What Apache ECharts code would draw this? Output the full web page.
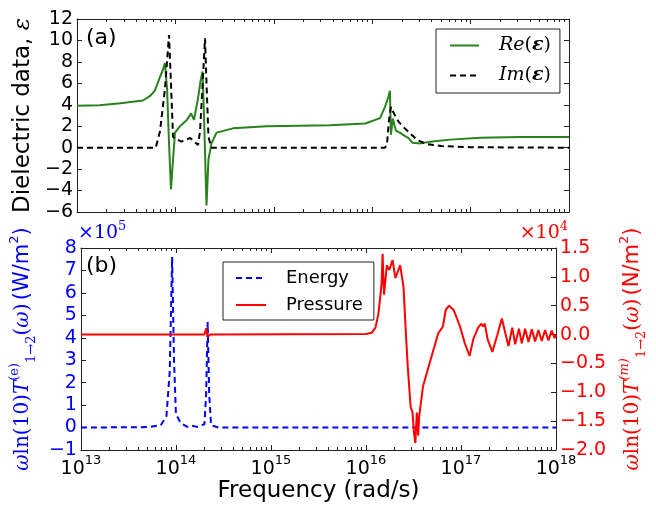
<!DOCTYPE html>
<html>
<head>
<meta charset="utf-8">
<script src="https://cdn.jsdelivr.net/npm/echarts@6/dist/echarts.min.js"></script>
<style>
  html, body { margin: 0; padding: 0; background: #fff; }
  #chart { width: 656px; height: 509px; }
</style>
</head>
<body>
<div id="chart"></div>
<script>
// x values are log10 of the frequency (rad/s)
// panel (a): dielectric data
var reLogW = [13.00, 13.23, 13.44, 13.67, 13.74, 13.79, 13.84, 13.874, 13.894, 13.915, 13.935, 13.955, 13.976, 13.996,
  14.047, 14.118, 14.159, 14.189, 14.23, 14.255, 14.275, 14.291, 14.316, 14.336, 14.367, 14.418, 14.585, 14.93,
  15.57, 15.93, 16.08, 16.13, 16.165, 16.18, 16.19, 16.21, 16.24, 16.28, 16.33, 16.37, 16.41, 16.49, 16.59, 16.79,
  17.10, 17.50, 18.00];
var reEps = [3.9, 3.95, 4.15, 4.4, 4.8, 5.3, 6.5, 7.3, 7.9, 5.5, 0.5, -3.9, -1.1, 1.4,
  2.0, 2.6, 3.2, 2.6, 4.6, 6.2, 7.1, 3.0, -5.4, -1.1, 0.4, 1.4, 1.8, 2.0,
  2.1, 2.25, 2.75, 3.8, 4.75, 5.3, 1.2, 2.7, 1.6, 1.4, 1.1, 0.9, 0.45, 0.4, 0.55, 0.75,
  0.92, 1.0, 1.0];
var imLogW = [13.00, 13.80, 13.843, 13.894, 13.935, 13.955, 13.976, 14.06, 14.15, 14.23, 14.25, 14.28, 14.301, 14.316,
  14.336, 14.367, 16.13, 16.15, 16.17, 16.19, 16.22, 16.27, 16.32, 16.40, 16.46, 16.55, 16.70, 17.00, 17.50, 18.00];
var imEps = [0, 0, 1.5, 5.5, 10.5, 6, 1.0, 0.56, 0.9, 0.25, 1.5, 6.5, 10.2, 6,
  1.0, 0, 0, 0.3, 2.5, 3.8, 3.2, 2.4, 1.9, 1.2, 0.7, 0.35, 0.15, 0.05, 0.01, 0];

// panel (b): energy (W/m^2) and pressure (N/m^2)
var energyLogW = [13.00, 13.70, 13.84, 13.90, 13.935, 13.96, 13.98, 14.00, 14.05, 14.12, 14.17, 14.22, 14.30, 14.318,
  14.334, 14.35, 14.37, 14.45, 18.00];
var energyVals = [0, 2000, 10000, 50000, 250000, 760000, 300000, 60000, 20000, 3000, 8000, 3000, 15000, 150000,
  470000, 150000, 10000, 0, 0];
var pressureLogW = [13.00, 14.30, 14.32, 14.335, 14.36, 16.00, 16.06, 16.10, 16.13, 16.15, 16.165, 16.175, 16.19, 16.22,
  16.245, 16.28, 16.31, 16.36, 16.395, 16.42, 16.44, 16.47, 16.49, 16.505, 16.52, 16.535, 16.55, 16.56, 16.60, 16.69,
  16.76, 16.81, 16.84, 16.875, 16.925, 16.99, 17.04, 17.09, 17.13, 17.18, 17.215, 17.23, 17.25, 17.28, 17.33,
  17.38, 17.43, 17.47, 17.50, 17.54, 17.57, 17.61, 17.64, 17.675, 17.71, 17.745, 17.78, 17.815, 17.85, 17.885,
  17.92, 17.955, 17.985, 18.00];
var pressureVals = [0, 0, 1100, -400, 0, 100, 300, 1200, 3500, 6500, 9000, 14000, 6900, 12000,
  11200, 12900, 9800, 12000, 8300, 300, -5600, -12500, -13500, -17000, -18800, -13500, -17500, -14200, -9000, -3800,
  200, 1400, 4300, 5000, 4200, 1400, -1500, -3700, -800, 1200, 1900, 1400, 1900, -800, -3000,
  -200, 2800, 0, -2000, 1200, -1700, 1000, -1500, 1000, -1300, 900, -1200, 800, -1100, 800,
  -1000, 700, -600, 0];

var decades = [13, 14, 15, 16, 17, 18];

function zip(xs, ys) {
  return xs.map(function (x, i) { return [x, ys[i]]; });
}
function minus(s) { return String(s).replace('-', '\u2212'); }

var minorVals = [];
decades.slice(0, -1).forEach(function (d) {
  for (var k = 2; k <= 9; k++) minorVals.push(d + Math.log10(k));
});

var sans = 'DejaVu Sans';
var serif = 'DejaVu Serif';
var frame = '#222';

function xAxisFor(grid, pos, minor, labels) {
  return {
    type: 'value', gridIndex: grid, position: pos, min: 13, max: 18, interval: 1,
    axisLine: { show: !minor, onZero: false, lineStyle: { color: frame, width: 1 } },
    axisTick: minor
      ? { show: true, inside: true, length: 3, customValues: minorVals, lineStyle: { color: frame } }
      : { show: true, inside: true, length: 5, lineStyle: { color: frame } },
    axisLabel: labels ? {
      show: true, margin: 4,
      formatter: function (v) { return '{b|10}{s|' + v + '}'; },
      rich: {
        b: { fontFamily: sans, fontSize: 19, color: '#000', lineHeight: 30 },
        s: { fontFamily: sans, fontSize: 13, color: '#000', lineHeight: 13, verticalAlign: 'top' }
      }
    } : { show: false },
    splitLine: { show: false }
  };
}

var option = {
  animation: false,
  backgroundColor: '#fff',
  grid: [
    { left: 77, top: 19, width: 492, height: 193 },
    { left: 77, top: 248, width: 492, height: 202 }
  ],
  xAxis: [
    xAxisFor(0, 'bottom', false, false),
    xAxisFor(0, 'top', false, false),
    xAxisFor(0, 'bottom', true, false),
    xAxisFor(0, 'top', true, false),
    Object.assign(xAxisFor(1, 'bottom', false, true), {
      name: 'Frequency (rad/s)', nameLocation: 'middle', nameGap: 29,
      nameTextStyle: { fontFamily: sans, fontSize: 23, color: '#000' }
    }),
    xAxisFor(1, 'top', false, false),
    xAxisFor(1, 'bottom', true, false),
    xAxisFor(1, 'top', true, false)
  ],
  yAxis: [
    {
      type: 'value', gridIndex: 0, position: 'left', min: -6, max: 12, interval: 2,
      axisLine: { show: true, onZero: false, lineStyle: { color: frame } },
      axisTick: { inside: true, length: 5, lineStyle: { color: frame } },
      axisLabel: { margin: 4, fontFamily: sans, fontSize: 19, color: '#000', formatter: minus },
      splitLine: { show: false },
      name: '{s|Dielectric data, }{m|ε}', nameLocation: 'middle', nameGap: 40,
      nameTextStyle: {
        rich: {
          s: { fontFamily: sans, fontSize: 23, color: '#000' },
          m: { fontFamily: serif, fontStyle: 'italic', fontSize: 23, color: '#000' }
        }
      }
    },
    {
      type: 'value', gridIndex: 0, position: 'right', min: -6, max: 12, interval: 2,
      axisLine: { show: true, onZero: false, lineStyle: { color: frame } },
      axisTick: { inside: true, length: 5, lineStyle: { color: frame } },
      axisLabel: { show: false },
      splitLine: { show: false }
    },
    {
      type: 'value', gridIndex: 1, position: 'left', min: -100000, max: 800000, interval: 100000,
      axisLine: { show: true, onZero: false, lineStyle: { color: frame } },
      axisTick: { inside: true, length: 5, lineStyle: { color: frame } },
      axisLabel: {
        margin: 4, fontFamily: sans, fontSize: 19, color: '#0000ff',
        formatter: function (v) { return minus(Math.round(v / 1e5)); }
      },
      splitLine: { show: false },
      name: '{m|ω}{r|ln(10)}{m|T}{p|(e)}{b|1→2}{r|(}{m|ω}{r|)} {s|(W/m}{q|2}{s|)}',
      nameLocation: 'middle', nameGap: 34,
      nameTextStyle: {
        rich: {
          m: { fontFamily: serif, fontStyle: 'italic', fontSize: 20, color: '#0000ff', lineHeight: 30 },
          r: { fontFamily: serif, fontSize: 20, color: '#0000ff', lineHeight: 30 },
          p: { fontFamily: serif, fontSize: 13, color: '#0000ff', lineHeight: 13, verticalAlign: 'top' },
          b: { fontFamily: serif, fontSize: 13, color: '#0000ff', lineHeight: 13, verticalAlign: 'bottom' },
          s: { fontFamily: sans, fontSize: 21, color: '#0000ff', lineHeight: 30 },
          q: { fontFamily: sans, fontSize: 13, color: '#0000ff', lineHeight: 13, verticalAlign: 'top' }
        }
      }
    },
    {
      type: 'value', gridIndex: 1, position: 'right', min: -20000, max: 15000, interval: 5000,
      axisLine: { show: true, onZero: false, lineStyle: { color: frame } },
      axisTick: { inside: true, length: 5, lineStyle: { color: frame } },
      axisLabel: {
        margin: 4, fontFamily: sans, fontSize: 19, color: '#ff0000',
        formatter: function (v) { return minus((v / 1e4).toFixed(1)); }
      },
      splitLine: { show: false },
      name: '{m|ω}{r|ln(10)}{m|T}{p|(m)}{b|1→2}{r|(}{m|ω}{r|)} {s|(N/m}{q|2}{s|)}',
      nameLocation: 'middle', nameGap: 62, nameRotate: 90,
      nameTextStyle: {
        rich: {
          m: { fontFamily: serif, fontStyle: 'italic', fontSize: 20, color: '#ff0000', lineHeight: 30 },
          r: { fontFamily: serif, fontSize: 20, color: '#ff0000', lineHeight: 30 },
          p: { fontFamily: serif, fontStyle: 'italic', fontSize: 13, color: '#ff0000', lineHeight: 13, verticalAlign: 'top' },
          b: { fontFamily: serif, fontSize: 13, color: '#ff0000', lineHeight: 13, verticalAlign: 'bottom' },
          s: { fontFamily: sans, fontSize: 21, color: '#ff0000', lineHeight: 30 },
          q: { fontFamily: sans, fontSize: 13, color: '#ff0000', lineHeight: 13, verticalAlign: 'top' }
        }
      }
    }
  ],
  legend: [
    {
      data: ['Re', 'Im'], orient: 'vertical', left: 436, top: 29,
      padding: [7, 9, 8, 13], itemGap: 11, itemWidth: 29, itemHeight: 14,
      borderColor: frame, borderWidth: 1, borderRadius: 0,
      itemStyle: { opacity: 0 },
      formatter: function (n) { return '{i|' + n + '}{u|(}{e|ε}{u|)}'; },
      textStyle: {
        padding: [0, 0, 0, 15],
        rich: {
          i: { fontFamily: serif, fontStyle: 'italic', fontSize: 19, color: '#000', lineHeight: 20 },
          u: { fontFamily: serif, fontSize: 19, color: '#000', lineHeight: 20 },
          e: { fontFamily: serif, fontStyle: 'italic', fontWeight: 'bold', fontSize: 19, color: '#000', lineHeight: 20 }
        }
      }
    },
    {
      data: ['Energy', 'Pressure'], orient: 'vertical', left: 223, top: 262,
      padding: [6, 11, 5, 12], itemGap: 7, itemWidth: 30, itemHeight: 14,
      borderColor: frame, borderWidth: 1, borderRadius: 0,
      itemStyle: { opacity: 0 },
      textStyle: { fontFamily: sans, fontSize: 18, color: '#000', lineHeight: 20, padding: [0, 0, 0, 15] }
    }
  ],
  graphic: [
    { type: 'text', x: 86, y: 27, style: { text: '(a)', fontFamily: sans, fontSize: 22, fill: '#000' } },
    { type: 'text', x: 86, y: 255, style: { text: '(b)', fontFamily: sans, fontSize: 22, fill: '#000' } },
    {
      type: 'text', x: 78, y: 220,
      style: {
        text: '{a|×10}{b|5}', fill: '#0000ff',
        rich: {
          a: { fontFamily: serif, fontSize: 19, fill: '#0000ff', lineHeight: 26 },
          b: { fontFamily: serif, fontSize: 13, fill: '#0000ff', lineHeight: 13, verticalAlign: 'top' }
        }
      }
    },
    {
      type: 'text', x: 568, y: 220,
      style: {
        text: '{a|×10}{b|4}', fill: '#ff0000', align: 'right',
        rich: {
          a: { fontFamily: serif, fontSize: 19, fill: '#ff0000', lineHeight: 26 },
          b: { fontFamily: serif, fontSize: 13, fill: '#ff0000', lineHeight: 13, verticalAlign: 'top' }
        }
      }
    }
  ],
  series: [
    {
      name: 'Re', type: 'line', xAxisIndex: 0, yAxisIndex: 0, data: zip(reLogW, reEps),
      symbol: 'none', color: '#2a821c', lineStyle: { color: '#2a821c', width: 2 }
    },
    {
      name: 'Im', type: 'line', xAxisIndex: 0, yAxisIndex: 0, data: zip(imLogW, imEps),
      symbol: 'none', color: '#000', lineStyle: { color: '#000', width: 2, type: [6, 4] }
    },
    {
      name: 'Energy', type: 'line', xAxisIndex: 4, yAxisIndex: 2, data: zip(energyLogW, energyVals),
      symbol: 'none', color: '#0000ff', lineStyle: { color: '#0000ff', width: 2, type: [6, 4] }
    },
    {
      name: 'Pressure', type: 'line', xAxisIndex: 4, yAxisIndex: 3, data: zip(pressureLogW, pressureVals),
      symbol: 'none', color: '#ff0000', lineStyle: { color: '#ff0000', width: 2 }
    }
  ]
};

var myChart = echarts.init(document.getElementById('chart'));
myChart.setOption(option);
window.addEventListener('resize', function () { myChart.resize(); });
</script>
</body>
</html>
